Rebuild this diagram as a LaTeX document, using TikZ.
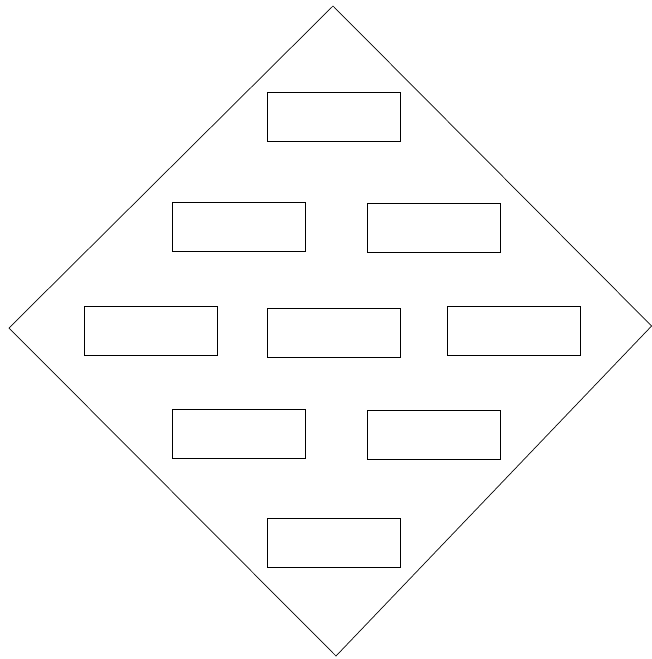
\documentclass[tikz,border=0pt]{standalone}
\usetikzlibrary{positioning}

\begin{document}
\begin{tikzpicture}[
  x=1pt,y=-1pt,
  box/.style={draw,line width=0.7pt,minimum width=133pt,minimum height=49pt,inner sep=0pt}
]
\useasboundingbox (0,0) rectangle (652,659);
% outer diamond
\coordinate (top) at (333,6);
\coordinate (left) at (9,328);
\coordinate (right) at (651.6,326);
\coordinate (bottom) at (336,656);
\draw[line width=0.7pt] (top) -- (right) -- (bottom) -- (left) -- cycle;
% boxes
\node[box] (n1) at (333.5,117) {};
\node[box] (n2) at (239,226.5) {};
\node[box] (n3) at (434,227.5) {};
\node[box] (n4) at (151,330.5) {};
\node[box] (n5) at (333.5,332.5) {};
\node[box] (n6) at (513.5,331) {};
\node[box] (n7) at (239,433.5) {};
\node[box] (n8) at (434,434.5) {};
\node[box] (n9) at (333.5,542.5) {};
\end{tikzpicture}
\end{document}
